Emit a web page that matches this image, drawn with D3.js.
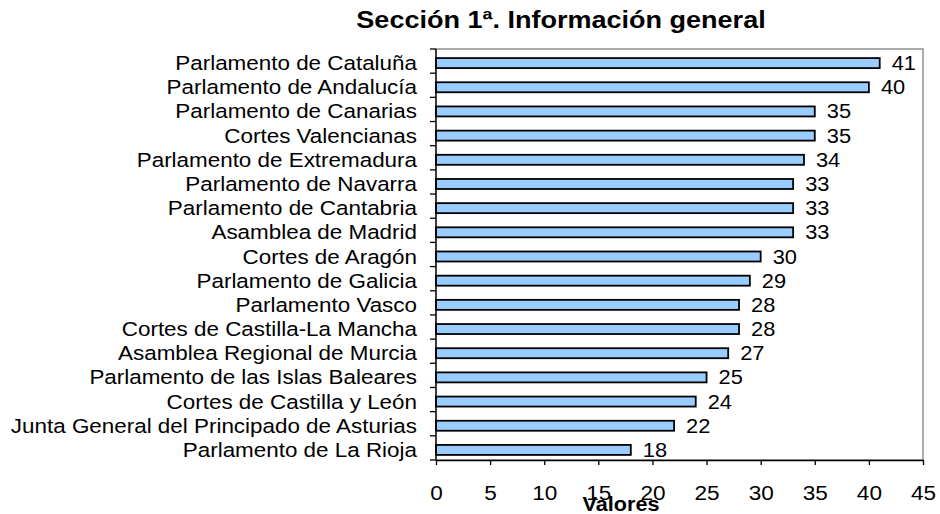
<!DOCTYPE html>
<html>
<head>
<meta charset="utf-8">
<script src="https://cdn.jsdelivr.net/npm/d3@7"></script>
<style>
  body { margin: 0; background: #fff; }
  text { font-family: "Liberation Sans", Arial, sans-serif; fill: #000; }
</style>
</head>
<body>
<svg id="chart"></svg>
<script>
const categories = [
  "Parlamento de Cataluña",
  "Parlamento de Andalucía",
  "Parlamento de Canarias",
  "Cortes Valencianas",
  "Parlamento de Extremadura",
  "Parlamento de Navarra",
  "Parlamento de Cantabria",
  "Asamblea de Madrid",
  "Cortes de Aragón",
  "Parlamento de Galicia",
  "Parlamento Vasco",
  "Cortes de Castilla-La Mancha",
  "Asamblea Regional de Murcia",
  "Parlamento de las Islas Baleares",
  "Cortes de Castilla y León",
  "Junta General del Principado de Asturias",
  "Parlamento de La Rioja"
];
const values = [41, 40, 35, 35, 34, 33, 33, 33, 30, 29, 28, 28, 27, 25, 24, 22, 18];
const xTicks = [0, 5, 10, 15, 20, 25, 30, 35, 40, 45];

const width = 940;
const height = 514;
const margin = { top: 49, right: 17, bottom: 54, left: 436 };

const svg = d3.select("#chart")
  .attr("width", width)
  .attr("height", height)
  .attr("viewBox", `0 0 ${width} ${height}`);

const x = d3.scaleLinear().domain([0, 45]).range([margin.left, width - margin.right]);
const y = d3.scaleBand().domain(categories).range([margin.top, height - margin.bottom]);

const barH = 10;
const barOffset = 2; // bars sit a little below the band centre

// titulo
svg.append("text")
  .attr("transform", `translate(561,28) scale(1.15,1)`)
  .attr("text-anchor", "middle")
  .attr("font-size", 23.5)
  .attr("font-weight", "bold")
  .text("Sección 1ª. Información general");

// marco gris del area de trazado
svg.append("rect")
  .attr("x", x(0))
  .attr("y", margin.top)
  .attr("width", x(45) - x(0))
  .attr("height", height - margin.bottom - margin.top)
  .attr("fill", "none")
  .attr("stroke", "#909090")
  .attr("stroke-width", 1.5);

// barras
svg.append("g")
  .selectAll("rect")
  .data(values)
  .join("rect")
  .attr("x", x(0))
  .attr("y", (d, i) => y(categories[i]) + y.bandwidth() / 2 - barH / 2 + barOffset)
  .attr("width", d => x(d) - x(0))
  .attr("height", barH)
  .attr("fill", "#99ccff")
  .attr("stroke", "#000")
  .attr("stroke-width", 1.8);

// etiquetas de valor
svg.append("g")
  .selectAll("text")
  .data(values)
  .join("text")
  .attr("transform", (d, i) => `translate(${x(d) + 12},${y(categories[i]) + y.bandwidth() / 2 + barOffset + 7}) scale(1.12,1)`)
  .attr("font-size", 19.5)
  .text(d => d);

// eje vertical
const yAxis = svg.append("g");
yAxis.append("line")
  .attr("x1", x(0)).attr("x2", x(0))
  .attr("y1", margin.top).attr("y2", height - margin.bottom)
  .attr("stroke", "#000").attr("stroke-width", 1.3);

const boundaries = categories.map(c => y(c)).concat([y.range()[1]]);
yAxis.selectAll("line.tick")
  .data(boundaries)
  .join("line")
  .attr("class", "tick")
  .attr("x1", x(0) - 6).attr("x2", x(0))
  .attr("y1", d => d).attr("y2", d => d)
  .attr("stroke", "#000").attr("stroke-width", 1.3);

yAxis.selectAll("text")
  .data(categories)
  .join("text")
  .attr("transform", d => `translate(417,${y(d) + y.bandwidth() / 2 + barOffset + 7}) scale(1.15,1)`)
  .attr("text-anchor", "end")
  .attr("font-size", 19.5)
  .text(d => d);

// eje horizontal
const xAxis = svg.append("g")
  .attr("transform", `translate(0,${height - margin.bottom})`)
  .call(d3.axisBottom(x).tickValues(xTicks).tickSize(5).tickSizeOuter(0));

xAxis.select(".domain").attr("stroke", "#000").attr("stroke-width", 1.3);
xAxis.selectAll(".tick line").attr("stroke", "#000").attr("stroke-width", 1.3);
xAxis.selectAll(".tick text")
  .attr("y", 40)
  .attr("dy", null)
  .attr("transform", "scale(1.1,1)")
  .attr("font-size", 20.5)
  .attr("font-family", "Liberation Sans, Arial, sans-serif")
  .attr("fill", "#000");

svg.append("text")
  .attr("transform", `translate(621,511) scale(1.08,1)`)
  .attr("text-anchor", "middle")
  .attr("font-size", 20)
  .attr("font-weight", "bold")
  .text("Valores");
</script>
</body>
</html>
